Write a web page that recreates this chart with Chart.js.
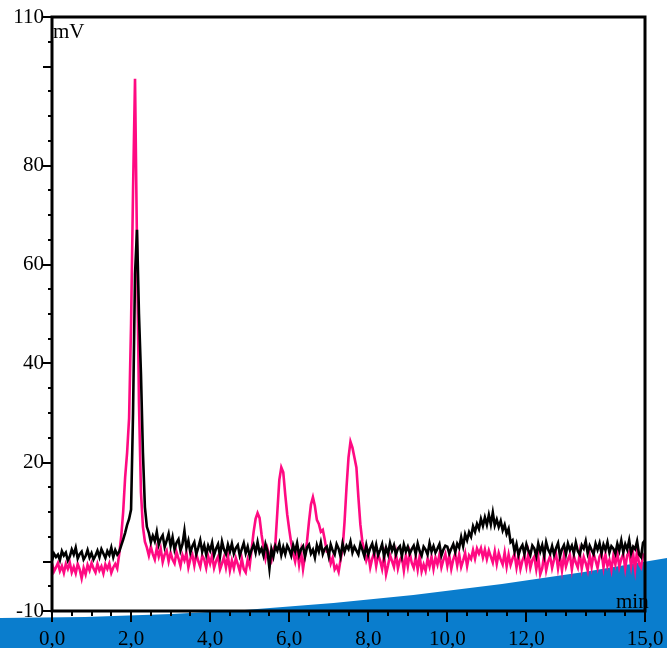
<!DOCTYPE html>
<html>
<head>
<meta charset="utf-8">
<script src="https://cdn.jsdelivr.net/npm/chart.js@4"></script>
<style>
  html, body { margin: 0; padding: 0; background: #ffffff; }
  #chart { display: block; }
</style>
</head>
<body>
<canvas id="chart" width="667" height="648"></canvas>
<script>
// sampling of both traces (min)
const sampleStart = 0;
const sampleStep = 0.05;

// black trace, mV, one row per minute
const blackTrace = [
    0.2, 1.6, 0.9, 1.4, 0.3, 2.1, 1.2, 1.8, 0.2, 1.0, 2.4, 1.4, 2.8, 0.6, 1.5, 2.0, 0.4, 1.1, 2.3, 0.8,
    1.7, 0.4, 1.2, 2.2, 0.9, 2.5, 1.6, 0.7, 2.1, 1.3, 2.8, 0.9, 2.3, 1.4, 2.0, 3.2, 4.4, 5.8, 7.4, 8.6,
    10.5, 30, 58, 67, 50, 38, 22, 11, 7.0, 5.8, 3.9, 5.2, 4.1, 6.0, 3.4, 4.6, 5.3, 2.9, 4.2, 5.6,
    3.1, 4.9, 2.4, 3.8, 4.5, 2.2, 3.5, 6.2, 2.7, 4.2, 1.8, 3.1, 3.9, 1.5, 2.8, 4.3, 2.0, 3.3, 1.4, 3.2,
    2.2, 3.8, 1.3, 2.6, 3.5, 1.1, 4.0, 2.4, 1.5, 3.4, 2.0, 3.6, 1.6, 2.7, 3.3, 1.2, 2.5, 3.7, 1.7, 3.0,
    1.1, 2.4, 3.4, 1.8, 3.9, 1.8, 2.6, 1.2, 3.5, 2.1, -1.4, 2.5, 1.0, 3.1, 2.2, 3.6, 1.3, 2.9, 1.5, 3.2,
    2.4, 1.2, 3.3, 2.0, 3.7, 1.3, 2.5, 3.1, 1.0, 2.8, 3.4, 1.6, 2.4, 0.8, 3.3, 2.0, 3.8, 1.5, 2.6, 3.0,
    1.1, 3.4, 2.2, 1.4, 3.5, 2.6, 1.0, 3.6, 1.9, 3.2, 2.5, 4.0, 1.8, 3.0, 2.2, 1.4, 3.5, 2.4, 1.1, 3.3,
    1.4, 2.7, 3.6, 1.7, 3.4, 1.3, 2.3, 3.5, 1.0, 2.8, 1.5, 3.7, 2.2, 3.3, 1.4, 2.6, 3.1, 1.1, 3.4, 2.0,
    3.0, 1.6, 2.5, 3.2, 1.5, 3.6, 2.1, 1.2, 3.0, 2.4, 1.4, 3.7, 2.0, 3.1, 1.8, 2.6, 3.5, 1.2, 2.4, 3.2,
    3.0, 1.6, 2.6, 3.5, 1.9, 3.6, 2.8, 4.9, 3.1, 5.5, 4.3, 5.9, 5.0, 7.1, 6.0, 7.6, 6.6, 8.6, 7.2, 8.9,
    7.4, 9.4, 7.5, 9.9, 7.3, 8.5, 7.0, 8.2, 6.3, 7.4, 5.6, 6.6, 3.9, 4.3, 2.0, 3.5, 1.3, 2.6, 3.3, 1.5,
    3.5, 2.2, 1.3, 3.2, 2.6, 1.1, 3.6, 2.0, 3.3, 1.2, 3.9, 2.4, 1.6, 3.1, 1.4, 2.7, 3.7, 1.1, 2.5, 3.3,
    1.5, 3.6, 2.3, 3.2, 1.6, 3.8, 2.1, 1.4, 3.3, 2.6, 4.1, 1.7, 3.2, 2.3, 1.5, 3.6, 2.4, 3.7, 1.6, 3.4,
    2.3, 3.9, 1.8, 3.1, 2.6, 1.6, 3.6, 2.2, 4.2, 1.9, 3.5, 2.4, 4.3, 1.7, 3.0, 2.5, 4.1, 1.4, 0.9, 3.8,
    4.3,
];

// pink trace, mV, one row per minute
const pinkTrace = [
    -0.4, -2.0, -1.2, -0.3, -1.9, -0.9, -2.3, -0.5, -1.5, -0.2, -2.2, -1.1, -2.4, -0.5, -1.6, -3.4, -1.3, -2.6, -0.7, -1.8,
    -0.3, -1.4, -2.2, -0.5, -1.8, -1.0, -2.4, -0.6, -1.5, -0.4, -2.3, -1.2, -0.5, -1.4, 1.5, 5.0, 10, 17, 22, 29,
    48, 75, 97.5, 64, 32, 14, 7.0, 4.0, 2.8, 1.2, 3.0, 1.5, 0.4, 2.7, 1.0, 2.6, -0.1, 1.4, 2.2, 0.0,
    1.8, 0.4, -0.4, 1.9, 0.6, -0.9, 1.3, 0.2, 1.7, -1.2, 0.5, 1.4, -0.8, 1.5, 0.1, -1.1, 1.2, 0.4, -1.3, 1.1,
    -0.4, 1.2, -1.3, 0.1, 1.0, -1.6, -0.4, 0.9, -1.2, 1.1, -1.8, 0.2, -1.4, 0.7, -0.6, -2.0, 0.6, -1.5, -2.2, 0.4,
    -0.9, 2.5, 6.0, 8.6, 9.8, 8.8, 5.5, 2.8, 0.6, 2.6, 1.2, 0.2, 2.4, 3.5, 10.0, 16.5, 19.0, 18.0, 13.5, 9.5,
    6.5, 3.8, 1.6, 0.0, 2.4, -0.6, 2.0, -1.5, 1.2, 4.0, 8.0, 11.5, 13.0, 11.2, 8.4, 7.6, 6.0, 6.4, 4.4, 2.0,
    1.8, -0.4, 0.8, -1.6, -0.9, -2.1, 0.4, 2.5, 8.0, 15.0, 21.0, 24.2, 23.0, 21.0, 19.0, 13.0, 7.5, 4.0, 2.2, 0.2,
    1.5, -1.2, 0.6, 1.8, -0.9, 1.4, 0.2, -1.5, 1.1, -2.6, -0.8, 1.3, 0.1, -1.1, 1.6, -1.4, 0.3, 1.0, -1.8, 1.2,
    -1.0, 1.7, -0.3, -1.3, 0.9, -1.6, 1.1, -2.0, -0.6, -1.9, 0.5, -1.0, 1.0, -1.5, 0.8, -0.6, 1.4, -1.2, 0.3, 1.5,
    -0.9, 1.2, -1.5, 0.4, 1.6, -0.8, 1.4, -1.1, 0.2, 1.7, -0.9, 1.2, 0.5, 2.3, 0.6, 2.6, 1.6, 2.7, 0.8, 2.4,
    0.5, 2.2, 1.0, -0.2, 2.0, -0.5, 1.7, 0.4, -0.6, 1.8, -1.0, 1.4, -0.7, 0.6, 1.5, -1.2, 1.1, -1.5, 0.2, 1.2,
    -1.0, 1.6, -1.3, 0.3, 1.0, -1.6, 0.9, -2.6, -1.4, 1.4, -1.8, 0.0, 1.1, -1.3, 0.4, 1.5, -1.4, 1.0, -1.8, 1.2,
    -1.0, 0.4, 1.4, -1.6, 1.1, -0.2, -1.2, 1.7, -1.4, 0.9, -0.3, -1.8, 1.3, -1.1, 1.6, 0.2, -1.3, 1.0, 1.8, -1.2,
    1.4, -0.9, 0.3, -1.7, 1.2, -0.6, 1.8, -1.1, 0.5, 1.5, -1.4, 1.3, 2.0, -1.0, 1.6, -1.6, 2.3, -0.5, -1.2, 1.4,
    0.9,
];

// axes
const xMin = 0;
const xMax = 15;
const xStep = 0.5;
const xLabelled = [0, 2, 4, 6, 8, 10, 12, 15];
const yMin = -10;
const yMax = 110;
const yStep = 5;
const yLabelled = [-10, 20, 40, 60, 80, 110];
const yLongTicks = [-10, 0, 20, 40, 60, 80, 100, 110];

const FONT = '"Liberation Serif", "Times New Roman", serif';

function toPoints(values) {
    return values.map((v, i) => ({ x: sampleStart + i * sampleStep, y: v }));
}

// blue swoosh behind everything
const backdrop = {
    id: 'backdrop',
    beforeDraw(chart) {
        const { ctx, width, height } = chart;
        ctx.save();
        ctx.fillStyle = '#0a7dcd';
        ctx.beginPath();
        ctx.moveTo(0, 618);
        ctx.quadraticCurveTo(width / 2, 618, width, 558);
        ctx.lineTo(width, height);
        ctx.lineTo(0, height);
        ctx.closePath();
        ctx.fill();
        ctx.restore();
    },
};

// frame, tick marks and unit labels
const frame = {
    id: 'frame',
    afterDraw(chart) {
        const { ctx, chartArea } = chart;
        const xs = chart.scales.x;
        const ys = chart.scales.y;
        ctx.save();
        ctx.strokeStyle = '#000';
        ctx.lineWidth = 2;
        ctx.beginPath();
        xs.ticks.forEach((t) => {
            const px = Math.round(xs.getPixelForValue(t.value));
            const len = xLabelled.includes(t.value) ? 11 : 5;
            ctx.moveTo(px, chartArea.bottom);
            ctx.lineTo(px, chartArea.bottom + len);
        });
        ys.ticks.forEach((t) => {
            const py = Math.round(ys.getPixelForValue(t.value));
            const len = yLongTicks.includes(t.value) ? 9 : 4;
            ctx.moveTo(chartArea.left, py);
            ctx.lineTo(chartArea.left - len, py);
        });
        ctx.stroke();

        ctx.lineWidth = 3;
        ctx.strokeRect(chartArea.left, chartArea.top, chartArea.right - chartArea.left, chartArea.bottom - chartArea.top);

        ctx.fillStyle = '#000';
        ctx.font = '21px ' + FONT;
        ctx.textBaseline = 'alphabetic';
        ctx.textAlign = 'left';
        ctx.fillText('mV', chartArea.left + 1, chartArea.top + 21);
        ctx.fillText('min', chartArea.right - 29, chartArea.bottom - 3);
        ctx.restore();
    },
};

new Chart(document.getElementById('chart').getContext('2d'), {
    type: 'line',
    data: {
        datasets: [
            {
                label: 'black',
                data: toPoints(blackTrace),
                borderColor: '#000000',
                borderWidth: 2.6,
            },
            {
                label: 'pink',
                data: toPoints(pinkTrace),
                borderColor: '#ff0a82',
                borderWidth: 2.6,
            },
        ],
    },
    options: {
        responsive: false,
        animation: false,
        devicePixelRatio: 1,
        parsing: false,
        elements: {
            point: { radius: 0 },
            line: { tension: 0 },
        },
        layout: {
            padding: { top: 17, right: 22, left: 0, bottom: 0 },
        },
        plugins: {
            legend: { display: false },
            tooltip: { enabled: false },
        },
        scales: {
            x: {
                type: 'linear',
                min: xMin,
                max: xMax,
                grid: { display: false, drawTicks: false },
                border: { display: false },
                afterFit: (scale) => {
                    scale.height = 37;
                    scale.paddingLeft = 0;
                    scale.paddingRight = 0;
                },
                ticks: {
                    stepSize: xStep,
                    autoSkip: false,
                    maxRotation: 0,
                    padding: 16,
                    color: '#000',
                    font: { family: FONT, size: 21 },
                    callback: (v) => (xLabelled.includes(v) ? v.toFixed(1).replace('.', ',') : ''),
                },
            },
            y: {
                type: 'linear',
                min: yMin,
                max: yMax,
                grid: { display: false, drawTicks: false },
                border: { display: false },
                afterFit: (scale) => {
                    scale.width = 52;
                    scale.paddingTop = 0;
                    scale.paddingBottom = 0;
                },
                ticks: {
                    stepSize: yStep,
                    autoSkip: false,
                    padding: 8,
                    color: '#000',
                    font: { family: FONT, size: 21 },
                    callback: (v) => (yLabelled.includes(v) ? String(v) : ''),
                },
            },
        },
    },
    plugins: [backdrop, frame],
});
</script>
</body>
</html>
